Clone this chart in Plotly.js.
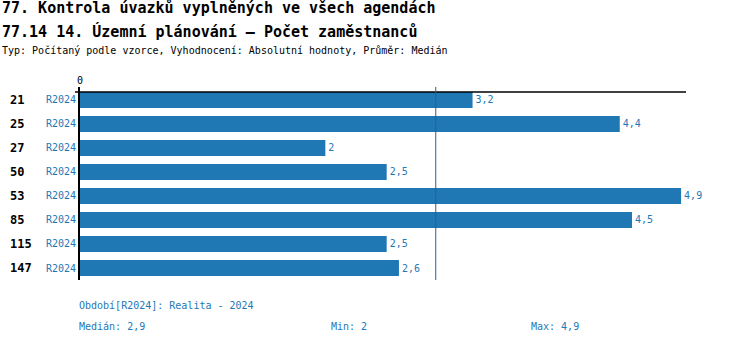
<!DOCTYPE html>
<html><head><meta charset="utf-8">
<script src="https://cdn.plot.ly/plotly-3.0.1.min.js"></script>
<style>body{margin:0;padding:0;}#c{width:750px;height:344px;}</style>
</head><body><div id="c"></div>
<script>
const ids = ['21','25','27','50','53','85','115','147'];
const periodLabel = 'R2024';
const values = [3.2, 4.4, 2, 2.5, 4.9, 4.5, 2.5, 2.6];
const title1 = '77. Kontrola úvazků vyplněných ve všech agendách';
const title2 = '77.14 14. Územní plánování – Počet zaměstnanců';
const subtitle = 'Typ: Počítaný podle vzorce, Vyhodnocení: Absolutní hodnoty, Průměr: Medián';
const periodNote = 'Období[R2024]: Realita - 2024';

const fmt = v => String(v).replace('.', ',');
const sorted = values.slice().sort((a,b)=>a-b);
const n = sorted.length;
const median = n % 2 ? sorted[(n-1)/2] : (sorted[n/2-1] + sorted[n/2]) / 2;
const mn = Math.min(...values), mx = Math.max(...values);
const med = Math.round(median*10)/10;

const L = 80, R = 686, T = 87, B = 280, W = 750, H = 344;
const px = x => (x - L) / (R - L);
const py = y => (B - y) / (B - T);
const mono = 'DejaVu Sans Mono, Liberation Mono, monospace';
const blue = '#1f77b4';

const annotations = [
  {text: '<b>' + title1 + '</b>', x: px(0), y: py(8), font: {size: 15, color: '#000', family: mono}},
  {text: '<b>' + title2 + '</b>', x: px(0), y: py(31), font: {size: 15, color: '#000', family: mono}},
  {text: subtitle, x: px(0), y: py(50), font: {size: 10, color: '#000', family: mono}},
  {text: periodNote, x: px(77), y: py(305), font: {size: 10, color: blue, family: mono}},
  {text: 'Medián: ' + fmt(med), x: px(77), y: py(326), font: {size: 10, color: blue, family: mono}},
  {text: 'Min: ' + fmt(mn), x: px(329), y: py(326), font: {size: 10, color: blue, family: mono}},
  {text: 'Max: ' + fmt(mx), x: px(529), y: py(326), font: {size: 10, color: blue, family: mono}},
].map(a => Object.assign({xref: 'paper', yref: 'paper', xanchor: 'left', yanchor: 'middle', showarrow: false}, a));

ids.forEach((id, i) => annotations.push({
  text: '<b>' + id + '</b>', xref: 'paper', yref: 'y', x: px(8), y: i,
  xanchor: 'left', yanchor: 'middle', showarrow: false,
  font: {size: 12, color: '#000', family: mono}
}));

const trace = {
  type: 'bar', orientation: 'h', x: values, y: ids,
  marker: {color: blue}, width: 0.66,
  text: values.map(fmt), textposition: 'outside', cliponaxis: false,
  textfont: {size: 10, color: blue, family: mono},
  hoverinfo: 'none'
};

const layout = {
  width: W, height: H,
  margin: {l: L, r: W - R, t: T, b: H - B, pad: 0},
  paper_bgcolor: '#fff', plot_bgcolor: '#fff',
  showlegend: false,
  font: {family: mono, size: 10, color: '#000'},
  xaxis: {range: [0, 4.94], side: 'top', tickvals: [0], ticktext: ['0'], showgrid: false,
          zeroline: false, showline: false, ticks: '', tickfont: {size: 10, color: '#000', family: mono}, fixedrange: true},
  yaxis: {type: 'category', categoryarray: ids, range: [7.5, -0.54], tickvals: ids,
          ticktext: ids.map(() => periodLabel), tickfont: {size: 10, color: blue, family: mono},
          showline: true, linecolor: '#000', linewidth: 2, ticks: '', showgrid: false, zeroline: false, fixedrange: true},
  shapes: [
    {type: 'line', xref: 'paper', yref: 'y', x0: px(75), x1: 1, y0: -0.33, y1: -0.33, line: {color: '#000', width: 1.5}},
    {type: 'line', xref: 'x', yref: 'paper', x0: median, x1: median, y0: 0, y1: 1, line: {color: '#2a5f8a', width: 1}}
  ],
  annotations: annotations,
  bargap: 0.34
};
Plotly.newPlot('c', [trace], layout, {staticPlot: true, displayModeBar: false});
</script></body></html>
